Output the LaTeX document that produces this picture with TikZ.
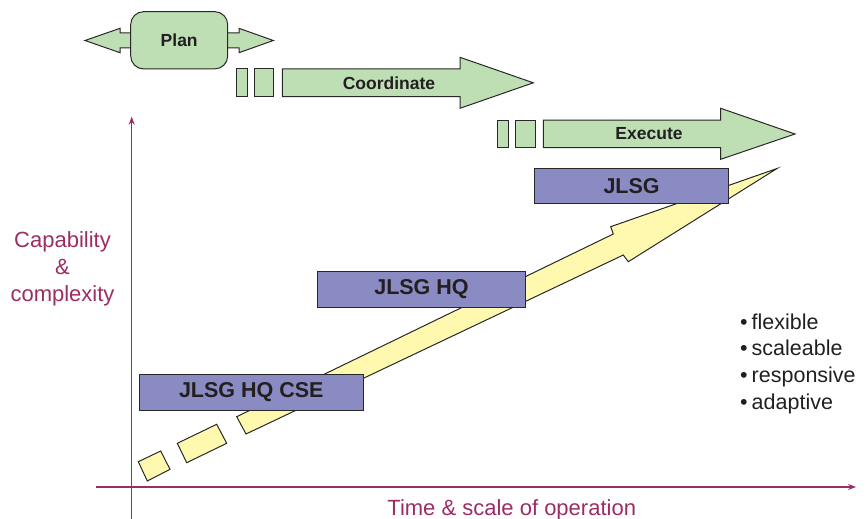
\documentclass[tikz,border=0pt]{standalone}
\usepackage{fontspec}
\setmainfont{Liberation Sans}
\usetikzlibrary{arrows.meta}
\definecolor{grn}{RGB}{190,222,180}
\definecolor{pur}{RGB}{137,139,194}
\definecolor{yel}{RGB}{255,249,176}
\definecolor{axc}{RGB}{155,45,100}
\definecolor{txt}{RGB}{35,31,32}
\definecolor{edge}{RGB}{40,40,40}
\begin{document}
\begin{tikzpicture}[x=1pt,y=-1pt,
  outl/.style={draw=edge, line width=1pt, line join=miter},
  grnshape/.style={outl, fill=grn},
  yelshape/.style={outl, fill=yel},
  purbox/.style={outl, fill=pur, inner sep=0pt, text=txt,
    font=\fontsize{21.5}{24}\selectfont\bfseries},
  lbl/.style={text=txt, inner sep=0pt, font=\fontsize{17.5}{20}\selectfont\bfseries},
  axis/.style={draw=axc, line width=1.2pt, -{Stealth[length=8pt,width=6pt]}},
  axlbl/.style={text=axc, inner sep=0pt, font=\fontsize{22}{27}\selectfont, align=center},
  bul/.style={text=txt, inner sep=0pt, font=\fontsize{21.5}{26.9}\selectfont, align=left}
]
\useasboundingbox (0,0) rectangle (868,519);

% axes
\coordinate (yb) at (131.7,519);
\coordinate (yt) at (131.7,116.7);
\coordinate (xl) at (96,487);
\coordinate (xr) at (856,487);
\draw[axis] (yb) -- (yt);
\draw[axis] (xl) -- (xr);

% Plan with double arrow
\draw[grnshape] (135,33) -- (120,33) -- (120,28.3) -- (85,40.5) -- (120,52.7) -- (120,48) -- (135,48) -- cycle;
\draw[grnshape] (222,33) -- (239,33) -- (239,28.3) -- (273.3,40.5) -- (239,52.7) -- (239,48) -- (222,48) -- cycle;
\node[grnshape, rounded corners=13pt, minimum width=97pt, minimum height=57.3pt, lbl] (plan) at (179.2,40.3) {Plan};

% Coordinate arrow
\draw[grnshape] (236.7,69) rectangle (247.3,96.7);
\draw[grnshape] (254.3,69) rectangle (273.3,96.7);
\draw[grnshape] (282.3,69) -- (460,69) -- (460,57.3) -- (533.3,82.8) -- (460,108.3) -- (460,96.7) -- (282.3,96.7) -- cycle;
\node[lbl] (coord) at (389,82.8) {Coordinate};

% Execute arrow
\draw[grnshape] (497.3,120) rectangle (508.3,147.7);
\draw[grnshape] (515.7,120) rectangle (535,147.7);
\draw[grnshape] (543.3,120) -- (720.7,120) -- (720.7,108.3) -- (795,134) -- (720.7,159.3) -- (720.7,147.7) -- (543.3,147.7) -- cycle;
\node[lbl] (exec) at (649,134) {Execute};

% yellow growth arrow
\draw[yelshape] (138.3,461.7) -- (147.3,481) -- (170,469.3) -- (160.7,451) -- cycle;
\draw[yelshape] (177.3,443.3) -- (186.7,462.7) -- (226.7,443.3) -- (216.7,424.3) -- cycle;
\draw[yelshape] (236.7,416.7) -- (613.3,234) -- (610.7,226.7) -- (777,168.5) -- (628.3,261.7) -- (623.3,255) -- (246,434) -- cycle;

% purple boxes
\node[purbox, minimum width=224pt, minimum height=35.7pt] (cse) at (251.3,392.2) {JLSG HQ CSE\hspace{6pt}};
\node[purbox, minimum width=208.3pt, minimum height=35.6pt] (hq) at (421.5,289.5) {JLSG HQ};
\node[purbox, minimum width=194.2pt, minimum height=35pt] (jlsg) at (631.6,185.8) {JLSG};

% labels
\node[axlbl] (ylab) at (62.5,269.3) {Capability\\\&\\complexity};
\node[axlbl, anchor=base] (xlab) at (511.7,515) {Time \& scale of operation};
\node[bul, anchor=north west] (props) at (740,313.3) {•\hspace{4pt}flexible\\•\hspace{4pt}scaleable\\•\hspace{4pt}responsive\\•\hspace{4pt}adaptive};
\end{tikzpicture}
\end{document}
